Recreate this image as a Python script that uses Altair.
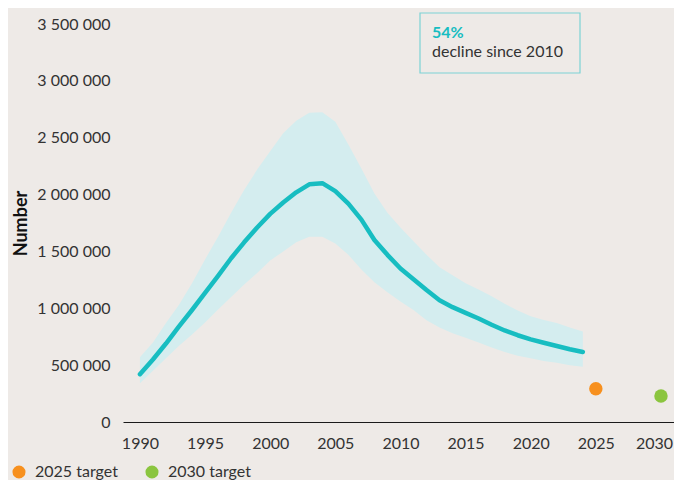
import altair as alt
import pandas as pd

years = list(range(1990, 2025))
central = [420000, 550000, 690000, 840000, 985000, 1135000, 1285000, 1440000, 1580000, 1710000,
           1830000, 1930000, 2020000, 2090000, 2100000, 2030000, 1920000, 1780000, 1600000, 1470000,
           1350000, 1255000, 1160000, 1070000, 1010000, 960000, 910000, 855000, 805000, 763000,
           727000, 697000, 668000, 640000, 615000]
upper = [570000, 700000, 870000, 1030000, 1220000, 1430000, 1630000, 1840000, 2040000, 2220000,
         2380000, 2540000, 2650000, 2720000, 2725000, 2640000, 2440000, 2230000, 2010000, 1840000,
         1710000, 1590000, 1470000, 1360000, 1290000, 1220000, 1165000, 1105000, 1040000, 980000,
         930000, 898000, 870000, 830000, 795000]
lower = [340000, 450000, 560000, 670000, 770000, 875000, 990000, 1100000, 1210000, 1310000,
         1420000, 1500000, 1580000, 1630000, 1630000, 1570000, 1470000, 1340000, 1230000, 1140000,
         1060000, 985000, 895000, 830000, 780000, 740000, 700000, 655000, 615000, 582000,
         560000, 537000, 520000, 500000, 485000]

target_labels = ["2025 target", "2030 target"]
target_years = [2025, 2030]
target_values = [292000, 229000]
target_colors = ["#F7901E", "#8BC53F"]

y_ticks = [0, 500000, 1000000, 1500000, 2000000, 2500000, 3000000, 3500000]
x_ticks = [1990, 1995, 2000, 2005, 2010, 2015, 2020, 2025, 2030]

annot_value = "54%"
annot_text = "decline since 2010"

FONT = "Lato"
TXT = "#333333"
LINE = "#17BDC1"
BAND = "#D4EDEF"
BG = "#EEEAE7"

series = pd.DataFrame({"year": years, "central": central, "upper": upper, "lower": lower})
targets = pd.DataFrame({"year": target_years, "value": target_values, "label": target_labels})

x_scale = alt.Scale(domain=[1988.7, 2031.0], nice=False, zero=False)
y_scale = alt.Scale(domain=[0, 3500000], nice=False)

x_axis = alt.Axis(values=x_ticks, format="d", title=None, grid=False, ticks=False, tickSize=0,
                  domainColor="#1a1a1a", domainWidth=1.2, labelFont=FONT, labelFontSize=16,
                  labelColor=TXT, labelPadding=13,
                  labelOffset={"condition": {"test": "datum.value == 2030", "value": -7}, "value": 0})
y_axis = alt.Axis(values=y_ticks, title="Number", grid=False, ticks=False, tickSize=0, domain=False,
                  labelExpr="replace(format(datum.value, ','), regexp(',', 'g'), ' ')",
                  labelFont=FONT, labelFontSize=16, labelColor=TXT, labelPadding=13,
                  titleFont=FONT, titleFontSize=18, titleFontWeight="bold", titleColor="#111111",
                  titlePadding=6)

band = alt.Chart(series).mark_area(color=BAND, opacity=1).encode(
    x=alt.X("year:Q", scale=x_scale, axis=x_axis),
    y=alt.Y("upper:Q", scale=y_scale, axis=y_axis),
    y2="lower:Q",
)

line = alt.Chart(series).mark_line(color=LINE, strokeWidth=4.5, strokeCap="round", strokeJoin="round").encode(
    x=alt.X("year:Q", scale=x_scale),
    y=alt.Y("central:Q", scale=y_scale),
)

points = alt.Chart(targets).mark_circle(size=180, opacity=1).encode(
    x=alt.X("year:Q", scale=x_scale),
    y=alt.Y("value:Q", scale=y_scale),
    color=alt.Color("label:N", scale=alt.Scale(domain=target_labels, range=target_colors),
                    legend=alt.Legend(title=None, orient="none", direction="horizontal",
                                      legendX=-112, legendY=440, padding=0,
                                      symbolType="circle", symbolSize=170, symbolStrokeWidth=0,
                                      labelFont=FONT, labelFontSize=16, labelColor=TXT,
                                      labelOffset=8, columnPadding=26)),
)

box = alt.Chart(pd.DataFrame({"t": [annot_value]})).mark_rect(
    fillOpacity=0, stroke="#7CD2D5", strokeWidth=1.2
).encode(x=alt.value(297), x2=alt.value(457), y=alt.value(-11), y2=alt.value(49))

t1 = alt.Chart(pd.DataFrame({"t": [annot_value]})).mark_text(
    align="left", baseline="middle", font=FONT, fontSize=16, fontWeight="bold", color=LINE
).encode(x=alt.value(309), y=alt.value(9), text="t:N")

t2 = alt.Chart(pd.DataFrame({"t": [annot_text]})).mark_text(
    align="left", baseline="middle", font=FONT, fontSize=16, color=TXT
).encode(x=alt.value(309), y=alt.value(28), text="t:N")

chart = alt.layer(band, line, points, box, t1, t2).properties(
    width=551, height=398,
    background=BG,
    padding={"left": 115, "top": 16, "right": 0, "bottom": 58},
    autosize=alt.AutoSizeParams(type="none"),
).configure_view(stroke=None)

chart.save("out.html", embed_options={"renderer": "svg", "actions": False})
